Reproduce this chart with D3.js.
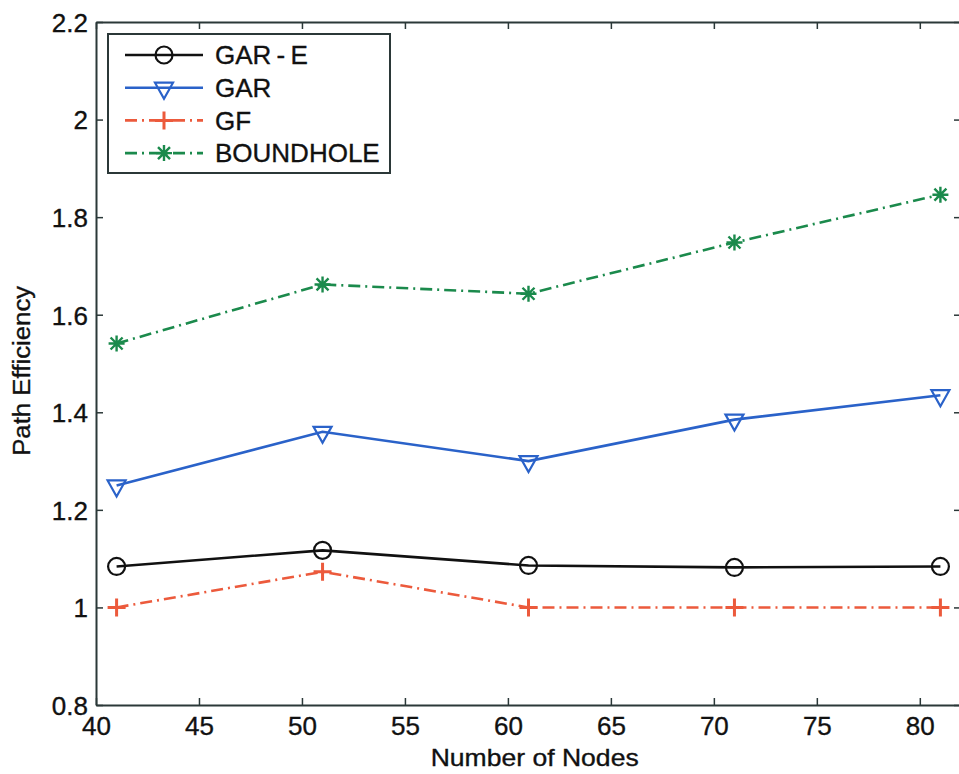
<!DOCTYPE html>
<html>
<head>
<meta charset="utf-8">
<script src="https://cdn.jsdelivr.net/npm/d3@7"></script>
<style>
  body { margin: 0; background: #fff; }
  svg { display: block; font-family: "Liberation Sans", Arial, sans-serif; }
  text { stroke: #111; stroke-width: 0.35px; }
</style>
</head>
<body>
<div id="wrapper"></div>
<script>
const nodes = [41, 51, 61, 71, 81];
const garE = [1.084, 1.117, 1.086, 1.082, 1.084];
const gar = [1.25, 1.36, 1.30, 1.385, 1.435];
const gf = [1.0, 1.073, 1.0, 1.0, 1.0];
const boundhole = [1.541, 1.662, 1.643, 1.748, 1.846];
const xTicks = [40, 45, 50, 55, 60, 65, 70, 75, 80];
const yTicks = [0.8, 1, 1.2, 1.4, 1.6, 1.8, 2, 2.2];

const series = [
    { name: "GAR\u2009-\u2009E", values: garE, color: "#111", dash: null, marker: "circle" },
    { name: "GAR", values: gar, color: "#2a62c9", dash: null, marker: "tri" },
    { name: "GF", values: gf, color: "#ec5a3c", dash: "12 5 2 5", marker: "plus" },
    { name: "BOUNDHOLE", values: boundhole, color: "#1b8a4c", dash: "12 5 2 5", marker: "star" },
];

const width = 959
const height = 774
let dimensions = {
    margin: { top: 22, right: -2, bottom: 69, left: 96 },
}
dimensions.boundedWidth = width - dimensions.margin.left - dimensions.margin.right
dimensions.boundedHeight = height - dimensions.margin.top - dimensions.margin.bottom

const svg = d3.select("#wrapper")
    .append("svg")
    .attr("width", width)
    .attr("height", height);

const bounds = svg.append("g")
    .attr("transform", `translate(${dimensions.margin.left},${dimensions.margin.top})`);

const xScaler = d3.scaleLinear()
    .domain([40, 82])
    .range([0, dimensions.boundedWidth]);

const yScaler = d3.scaleLinear()
    .domain([0.8, 2.2])
    .range([dimensions.boundedHeight, 0]);

const axisColor = "#2b3838";
const tickLen = 7;

// axes with inward ticks, matlab style
const xAxis = bounds.append("g")
    .attr("transform", `translate(0,${dimensions.boundedHeight})`)
    .call(d3.axisBottom(xScaler).tickValues(xTicks).tickSizeInner(-tickLen).tickSizeOuter(0).tickPadding(11));
const xTop = bounds.append("g")
    .call(d3.axisTop(xScaler).tickValues(xTicks).tickSizeInner(-tickLen).tickSizeOuter(0).tickFormat(""));
const yAxis = bounds.append("g")
    .call(d3.axisLeft(yScaler).tickValues(yTicks).tickSizeInner(-tickLen).tickSizeOuter(0).tickPadding(8).tickFormat(d3.format("~g")));
const yRight = bounds.append("g")
    .attr("transform", `translate(${dimensions.boundedWidth},0)`)
    .call(d3.axisRight(yScaler).tickValues(yTicks).tickSizeInner(-tickLen).tickSizeOuter(0).tickFormat(""));

[xAxis, xTop, yAxis, yRight].forEach(a => {
    a.select(".domain").attr("stroke", axisColor).attr("stroke-width", 2);
    a.selectAll(".tick line").attr("stroke", axisColor).attr("stroke-width", 1.5);
    a.selectAll(".tick text").attr("fill", "#111").attr("font-size", "26px")
        .attr("font-family", "Liberation Sans, Arial, sans-serif");
});
xAxis.selectAll(".tick text").attr("dy", "0.72em");
yAxis.selectAll(".tick text").attr("dy", "0.36em");

bounds.append("text")
    .attr("x", xScaler(61.3))
    .attr("y", dimensions.boundedHeight + 61)
    .attr("text-anchor", "middle")
    .attr("font-size", "24px")
    .attr("textLength", 208)
    .attr("lengthAdjust", "spacingAndGlyphs")
    .attr("fill", "#111")
    .text("Number of Nodes");

bounds.append("text")
    .attr("transform", `translate(-66,${yScaler(1.485)}) rotate(-90)`)
    .attr("text-anchor", "middle")
    .attr("font-size", "23px")
    .attr("textLength", 170)
    .attr("lengthAdjust", "spacingAndGlyphs")
    .attr("fill", "#111")
    .text("Path Efficiency");

function drawMarker(g, type, color) {
    if (type === "circle") {
        g.append("circle").attr("r", 8.5).attr("fill", "none").attr("stroke", color).attr("stroke-width", 2.2);
    } else if (type === "tri") {
        g.append("path").attr("d", "M-9,-5 L9,-5 L0,11 Z").attr("fill", "none").attr("stroke", color).attr("stroke-width", 2.2);
    } else if (type === "plus") {
        g.append("path").attr("d", "M-9,0 L9,0 M0,-9 L0,9").attr("stroke", color).attr("stroke-width", 3);
    } else if (type === "star") {
        g.append("path").attr("d", "M-8,0 L8,0 M0,-8 L0,8 M-6,-6 L6,6 M-6,6 L6,-6").attr("stroke", color).attr("stroke-width", 2.4);
    }
}

const lineGen = d3.line()
    .x((d, i) => xScaler(nodes[i]))
    .y(d => yScaler(d));

series.forEach(s => {
    bounds.append("path")
        .datum(s.values)
        .attr("d", lineGen)
        .attr("fill", "none")
        .attr("stroke", s.color)
        .attr("stroke-width", 2.6)
        .attr("stroke-dasharray", s.dash);
    s.values.forEach((v, i) => {
        const g = bounds.append("g")
            .attr("transform", `translate(${xScaler(nodes[i])},${yScaler(v)})`);
        drawMarker(g, s.marker, s.color);
    });
});

// legend
const legend = bounds.append("g").attr("transform", "translate(12,12)");
legend.append("rect")
    .attr("width", 282)
    .attr("height", 139)
    .attr("fill", "#fff")
    .attr("stroke", axisColor)
    .attr("stroke-width", 2);

series.forEach((s, i) => {
    const y = 21 + i * 32.7;
    legend.append("line")
        .attr("x1", 17).attr("x2", 95)
        .attr("y1", y).attr("y2", y)
        .attr("stroke", s.color)
        .attr("stroke-width", 2.6)
        .attr("stroke-dasharray", s.dash);
    const g = legend.append("g").attr("transform", `translate(56,${y})`);
    drawMarker(g, s.marker, s.color);
    legend.append("text")
        .attr("x", 107)
        .attr("y", y)
        .attr("dy", "0.36em")
        .attr("font-size", "26px")
        .attr("fill", "#111")
        .text(s.name);
});
</script>
</body>
</html>
